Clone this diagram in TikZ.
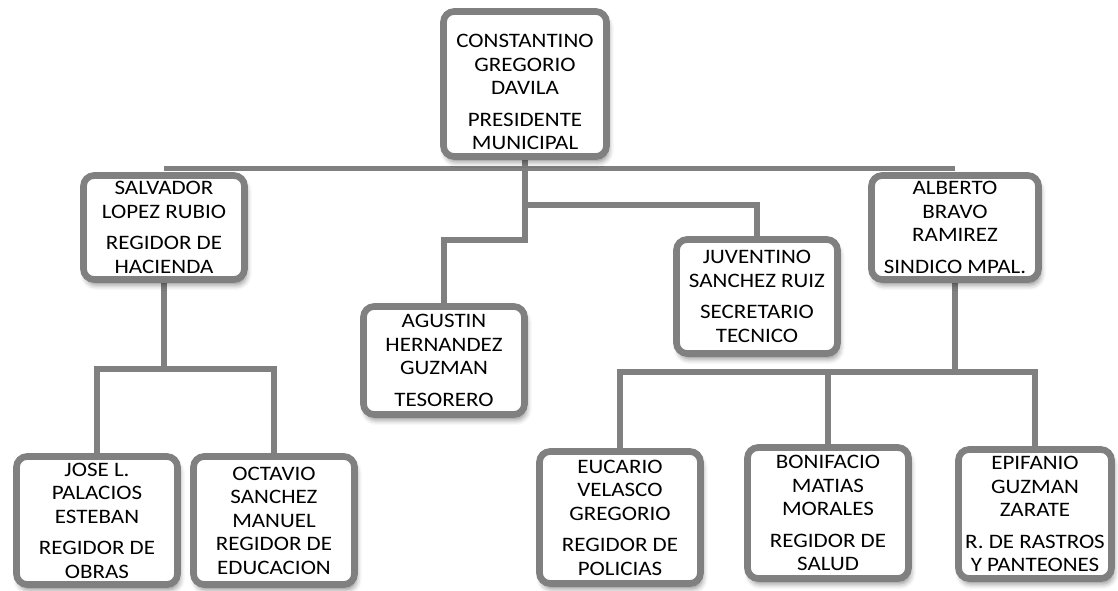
\documentclass[tikz,border=0pt]{standalone}
\usepackage{fontspec}
\setmainfont{Carlito}[FakeStretch=1.12]
\usetikzlibrary{shadows.blur,backgrounds}
\definecolor{boxgray}{RGB}{128,128,128}
\tikzset{
  box/.style={draw=boxgray, line width=5pt, rounded corners=8pt, fill=white,
    align=center, inner sep=0pt,
    font=\fontsize{15.4}{17.6}\selectfont,
    blur shadow={shadow xshift=1.5pt, shadow yshift=-4pt, shadow blur radius=4pt, shadow opacity=45}},
  link/.style={draw=boxgray, line width=4pt},
}
\newcommand\obox[6]{%
  \node[box, minimum width={(#4-#2-7)*0.75pt}, minimum height={(#5-#3-7)*0.75pt}]
    (#1) at ({(#2+#4)/2},{(#3+#5)/2}) {#6};}
\begin{document}
\begin{tikzpicture}[x=0.75pt,y=-0.75pt]
\useasboundingbox (0,0) rectangle (1118,590);
\obox{pres}{440}{8}{610}{160}{\rule{0pt}{22pt}CONSTANTINO\\GREGORIO\\DAVILA\\[6pt]PRESIDENTE\\MUNICIPAL}
\obox{sal}{80}{172}{248}{283}{SALVADOR\\LOPEZ RUBIO\\[6pt]REGIDOR DE\\HACIENDA}
\obox{alb}{868}{172}{1042}{283}{ALBERTO\\BRAVO\\RAMIREZ\\[6pt]SINDICO MPAL.}
\obox{juv}{673}{236}{841}{357}{JUVENTINO\\SANCHEZ RUIZ\\[6pt]SECRETARIO\\TECNICO}
\obox{agu}{360}{303}{528}{418}{AGUSTIN\\HERNANDEZ\\GUZMAN\\[6pt]TESORERO}
\obox{jose}{13}{453}{181}{588}{JOSE L.\\PALACIOS\\ESTEBAN\\[6pt]REGIDOR DE\\OBRAS}
\obox{oct}{190}{453}{358}{588}{OCTAVIO\\SANCHEZ\\MANUEL\\REGIDOR DE\\EDUCACION}
\obox{euc}{536}{448}{704}{587}{EUCARIO\\VELASCO\\GREGORIO\\[6pt]REGIDOR DE\\POLICIAS}
\obox{bon}{744}{444}{912}{582}{BONIFACIO\\MATIAS\\MORALES\\[6pt]REGIDOR DE\\SALUD}
\obox{epi}{955}{446}{1115}{582}{EPIFANIO\\GUZMAN\\ZARATE\\[6pt]R. DE RASTROS\\Y PANTEONES}
\coordinate (ya) at (0,205);
\coordinate (yb) at (0,240);
\coordinate (yl) at (0,369);
\coordinate (yr) at (0,372);
\begin{scope}[on background layer]
\draw[link] ([yshift=3pt]sal.north) -- ([yshift=3pt]alb.north);
\draw[link] (pres.south) -- (pres.south |- yb) -| (agu.north);
\draw[link] (pres.south |- ya) -| (juv.north);
\draw[link] (sal.south) -- (sal.south |- yl);
\draw[link] (jose.north) |- (oct.north |- yl) -- (oct.north);
\draw[link] (alb.south) -- (alb.south |- yr);
\draw[link] (euc.north) |- (epi.north |- yr) -- (epi.north);
\draw[link] (bon.north) -- (bon.north |- yr);
\end{scope}
\end{tikzpicture}
\end{document}
